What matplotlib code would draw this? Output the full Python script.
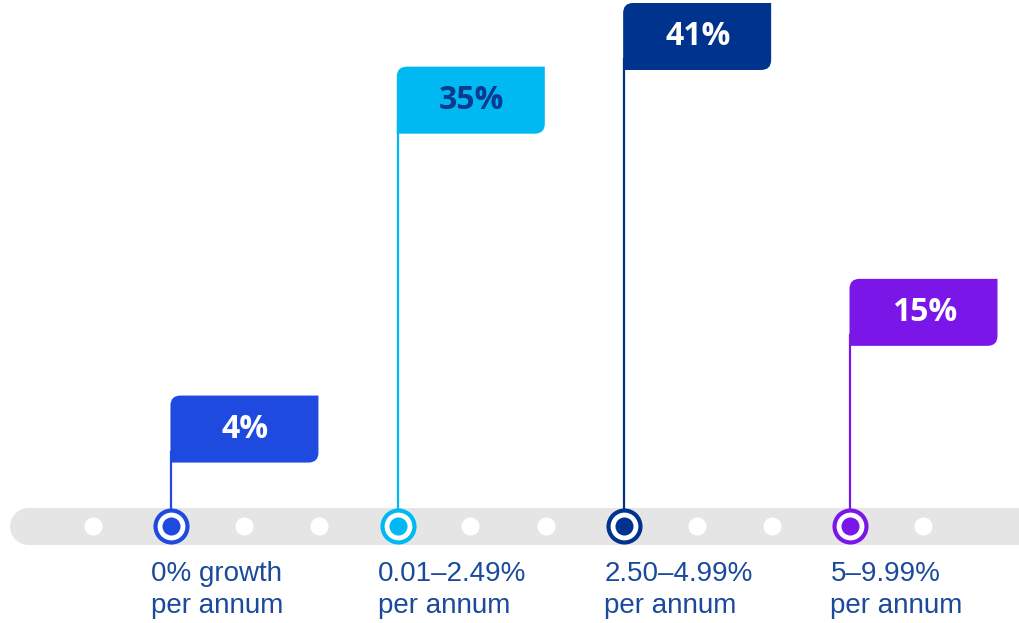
import matplotlib.pyplot as plt
from matplotlib.path import Path
from matplotlib.patches import PathPatch

plt.rcParams['font.family'] = ['Liberation Sans', 'DejaVu Sans']

# data
labels = ['0% growth\nper annum', '0.01–2.49%\nper annum',
          '2.50–4.99%\nper annum', '5–9.99%\nper annum']
values = [4, 35, 41, 15]
positions = [1, 4, 7, 10]       # slot on the track (12 slots)
n_slots = 12
colors = ['#1f4ae0', '#00b9f2', '#00338d', '#7a17e8']
text_colors = ['white', '#0b3a8f', 'white', 'white']

# pixel scale of the data units
PX_X = 75.45   # px per slot
PX_Y = 10.61   # px per percentage point
X0_PX = 93
Y0_PX = 505

fig = plt.figure(figsize=(10.2, 6.23), dpi=100)
ax = fig.add_axes([0, 0, 1, 1])
ax.set_xlim(-X0_PX / PX_X, (1020 - X0_PX) / PX_X)
ax.set_ylim(-(623 - Y0_PX) / PX_Y, Y0_PX / PX_Y)
ax.axis('off')

track_y = -21 / PX_Y

# grey track
ax.plot([(28 - X0_PX) / PX_X, (1040 - X0_PX) / PX_X], [track_y, track_y],
        color='#e5e5e5', lw=37 * 0.72, solid_capstyle='round', zorder=1)

# white dots
for i in range(n_slots):
    if i not in positions:
        ax.plot(i, track_y, 'o', ms=13, color='white', mec='none', zorder=2)


def flag_path(x0, y0, w, h, r=10):
    rx, ry = r / PX_X, r / PX_Y
    x1, y1 = x0 + w, y0 + h
    verts = [(x0, y0), (x1 - rx, y0), (x1, y0), (x1, y0 + ry),
             (x1, y1), (x0 + rx, y1), (x0, y1), (x0, y1 - ry), (x0, y0)]
    codes = [Path.MOVETO, Path.LINETO, Path.CURVE3, Path.CURVE3,
             Path.LINETO, Path.LINETO, Path.CURVE3, Path.CURVE3, Path.CLOSEPOLY]
    return Path(verts, codes)


w = 148 / PX_X
h = 67 / PX_Y
for lab, v, p, c, tc in zip(labels, values, positions, colors, text_colors):
    x = p + 3 / PX_X
    # pole
    ax.plot([x, x], [track_y, v + 1], color=c, lw=1.6, zorder=3)
    # flag
    ax.add_patch(PathPatch(flag_path(x - 1 / PX_X, v, w, h), fc=c, ec='none', zorder=4))
    ax.text(x + w / 2, v + h / 2, f'{v}%', color=tc, fontsize=23,
            fontweight='bold', ha='center', va='center', zorder=5,
            family=['Open Sans', 'DejaVu Sans'])
    # marker
    ax.plot(x, track_y, 'o', ms=26, color=c, mec='none', zorder=5)
    ax.plot(x, track_y, 'o', ms=20, color='white', mec='none', zorder=6)
    ax.plot(x, track_y, 'o', ms=13, color=c, mec='none', zorder=7)
    # category label
    l1, l2 = lab.split('\n')
    ax.text(x - 20 / PX_X, (Y0_PX - 574) / PX_Y, l1, color='#1b4a9c',
            fontsize=20, ha='left', va='center')
    ax.text(x - 20 / PX_X, (Y0_PX - 606) / PX_Y, l2, color='#1b4a9c',
            fontsize=20, ha='left', va='center')

fig.savefig('out.png', dpi=100)
